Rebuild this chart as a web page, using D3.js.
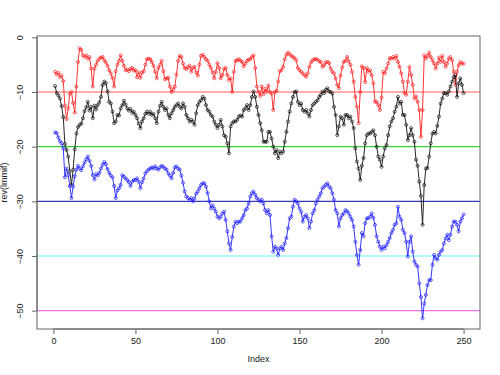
<!DOCTYPE html>
<html lang="en">
<head>
    <meta charset="UTF-8">
    <title>Three series with reference lines</title>
    <script src="https://d3js.org/d3.v7.min.js"></script>
    <style>
        body { margin: 0; background: #fff; font-family: "Liberation Sans", Arial, sans-serif; }
        .tick text { font-size: 9px; fill: #222; }
        .axis-label { font-size: 9px; fill: #222; }
    </style>
</head>
<body>
    <svg width="500" height="375"></svg>
    <script>
        // values, index 1..250
        const redVals = [
            -6.3,-6.8,-6.5,-7.3,-7,-8,-12.5,-15,-13,-10.3,-10,-12,-13.8,-9,-4.5,-2,-2.3,-3.3,-3.6,-3.3,
            -3.9,-3.6,-5.7,-9,-5.7,-5,-4.3,-3.9,-3.7,-3.6,-4.2,-4.6,-5.2,-6,-6.6,-7.4,-9,-6.2,-5,-4.3,
            -3.3,-4.3,-5.2,-6,-5.9,-6.2,-5.8,-5.6,-6.1,-6,-7.3,-6.4,-7.4,-6.5,-6.2,-5,-4,-3.9,-4,-4.5,
            -5.2,-6.3,-7.5,-5.6,-5,-4.3,-6.2,-7.7,-7.5,-7.4,-9,-10,-9.5,-9,-6.8,-4.3,-3.4,-3.6,-4.8,-5.6,
            -5.8,-5.5,-5.2,-6.3,-5.6,-5.4,-6.4,-7,-5,-3.4,-3.2,-3.6,-4,-4.3,-5,-5.6,-6.4,-7.5,-6.3,-4.7,
            -5.6,-7.5,-6.9,-5.8,-5.6,-6.9,-7.8,-7.5,-10,-6.3,-4.3,-4.2,-4,-4.3,-4.5,-5.3,-4.8,-4.3,-4.1,-4,
            -3.6,-3.3,-5.6,-9,-10,-10.7,-9,-10.4,-9.4,-10,-8.8,-10,-10.3,-13.3,-10,-9.8,-8.1,-6.2,-6,-5.4,
            -4,-3.2,-2.8,-3.1,-3.4,-3.6,-3.8,-4.2,-5.6,-6,-6.3,-6.6,-6.9,-7.2,-6.6,-5.4,-4.6,-4.2,-4,-4,
            -4.1,-4.4,-4.5,-5.4,-5.1,-4.6,-4.5,-4.7,-5.7,-6.3,-6.6,-7.5,-8.7,-9.3,-7,-5.5,-4.5,-4.3,-3.6,-4.4,
            -5,-6.3,-8.1,-10.9,-12.7,-15.7,-10,-5.3,-5.6,-8.2,-5.6,-6.3,-6,-6.9,-8.4,-11.8,-11.8,-12.4,-13.3,-11,
            -6.3,-6.6,-5.7,-4.8,-3.8,-3.9,-3.6,-3.9,-3.4,-4.5,-5.4,-6.6,-8.1,-10.2,-10.5,-8.1,-5.4,-6.9,-8.7,-11.2,
            -10.8,-11.8,-13.3,-18.2,-13.3,-3.3,-3.9,-3.4,-2.8,-3.6,-4.2,-4.8,-5.7,-4.8,-3.7,-4.5,-3.4,-4.5,-5.4,-4.8,
            -3.9,-3.6,-4.2,-6.3,-8.7,-6.3,-5.1,-4.5,-4.8,-4.8
        ];

        const blackVals = [
            -8.9,-10.2,-10.6,-11.2,-12.6,-14.6,-19.5,-20.6,-21.8,-24.5,-27,-24.2,-20.5,-17.6,-16.4,-16,-15.8,-14.8,-13.5,-12.8,
            -11.8,-13.4,-12.7,-14.8,-12.5,-13.2,-12.4,-11.9,-10.9,-8.7,-8.1,-8.4,-9.9,-11.8,-12.1,-13.6,-15.7,-15.4,-14.2,-14.3,
            -13,-12.4,-11.6,-12.3,-13,-13.4,-13.1,-13.8,-13.6,-14.2,-14.8,-15.8,-16.6,-15.4,-14.8,-14,-13.6,-14,-13.6,-14.2,
            -14,-14.8,-15.7,-13.6,-12.5,-11.8,-12.7,-13.3,-13,-14.2,-14.8,-13.9,-13.3,-12.7,-12.4,-12.1,-12.7,-13,-12.1,-12.7,
            -14.2,-14.8,-15.4,-15.1,-15.4,-16,-13.9,-12.4,-11.8,-11.5,-10.9,-11.2,-12.4,-13.3,-13.6,-14.2,-14.5,-15.4,-16,-16.6,
            -16,-15.1,-16.3,-17.9,-18.2,-19.4,-21.2,-16.3,-15.7,-15.4,-15.4,-15.1,-14.5,-14.3,-14.5,-13.3,-13,-12.4,-13.3,-12.4,
            -10.9,-9.9,-10.9,-12.7,-14.2,-15.7,-17,-19.1,-19.1,-19.1,-17.3,-17.3,-18.5,-20,-21.2,-20.6,-22.1,-20.9,-21.2,-20.9,
            -19.1,-17.3,-15.4,-13.6,-12.1,-10.9,-10,-9.9,-11.8,-12.4,-12.1,-13.3,-13.6,-13.3,-13.9,-14.5,-13.3,-12.4,-12.1,-11.8,
            -11.5,-10.9,-10.5,-9.9,-10.2,-9.6,-9.3,-9.9,-10,-10.3,-12.7,-14.2,-17.9,-16.3,-14.5,-14.8,-16,-14.2,-14.2,-14.8,
            -14.5,-15.4,-16.6,-20.3,-22.7,-24,-26.1,-23.5,-22.1,-19.4,-17.9,-17.6,-17.6,-17.3,-17,-17.9,-20,-21.8,-22.4,-23.7,
            -21.8,-20.3,-19.7,-17.9,-16.3,-15.4,-14.8,-13.6,-12.7,-10.9,-12.1,-11.8,-14.2,-14.2,-16,-18.8,-17.9,-16.6,-17.9,-19.1,
            -22.4,-23.5,-26.4,-29,-34.3,-27,-24,-23.9,-21.8,-19.4,-17.6,-17.3,-17.6,-16.2,-14.5,-12.1,-11.2,-10.2,-10.2,-10.5,
            -9.9,-9,-8.1,-7.3,-6.9,-10.9,-8.4,-7.5,-8.7,-10.2
        ];

        const blueVals = [
            -17.4,-17.5,-18.3,-19,-19.4,-20.3,-25.6,-24,-25.2,-27.2,-29.4,-27.3,-25.4,-24.2,-23.5,-24,-24.3,-23.6,-22.9,-22.3,
            -21.8,-22.6,-23.5,-25.2,-26,-25,-25.3,-24.8,-24,-23.3,-22.8,-23.2,-24.1,-24.8,-25.3,-25.6,-27.2,-29.4,-28,-27.6,
            -27,-25.2,-25.5,-25.8,-26.1,-26.5,-27.2,-26.4,-26.1,-26.1,-25.8,-26.4,-27.6,-26.5,-25.8,-24.9,-24.5,-24.2,-24,-23.8,
            -24,-23.6,-24,-24.2,-23.8,-23.5,-23.7,-24,-24.2,-24.9,-25.3,-25.8,-24.8,-23.8,-23.6,-24,-24.2,-25.3,-26.6,-28.2,
            -29.1,-29.4,-29.7,-29.4,-30,-29.5,-28.6,-28.2,-27.6,-27,-26.7,-26.7,-27.3,-28.5,-30,-31.3,-30.7,-31.3,-31.9,-32.8,
            -33.1,-32.8,-32.2,-31.9,-33.4,-35.5,-37.7,-38.9,-36.5,-34.6,-33.7,-34,-33.7,-33.7,-33.1,-32.5,-31.6,-31.3,-30.4,-29.1,
            -28.5,-28.2,-28.8,-29.4,-29.7,-30,-29.7,-30.4,-31.6,-32.2,-31.6,-32.5,-36.4,-39.2,-38.3,-38.6,-39.8,-38.6,-38.3,-38.9,
            -37.7,-36.7,-34.9,-33.1,-32.8,-31,-29.7,-30,-30.4,-31.3,-31.9,-33.7,-32.8,-32.5,-33.1,-34.9,-33.7,-32.2,-31.6,-30.4,
            -29.7,-29.1,-28.5,-27.6,-27.3,-27,-26.7,-27.3,-27.6,-28.5,-29.7,-31.6,-32.2,-34.6,-33.1,-32.5,-32.2,-31.6,-31.8,-32.2,
            -32.8,-33.4,-34.6,-37.4,-39.8,-41.6,-38.9,-35.8,-36.4,-34,-33.1,-33.1,-32.8,-32.2,-33,-34.3,-36.4,-37.4,-38.3,-38.9,
            -38.3,-38.6,-38,-37.4,-36.7,-35.8,-35.2,-34.3,-34,-31,-32.8,-33.4,-35.2,-35.8,-37.4,-40.1,-37.4,-36.4,-39.2,-41,
            -41.6,-41.9,-45,-47.5,-51.4,-48.7,-47.1,-45.3,-44.4,-44.4,-41.6,-39.8,-40.4,-40.7,-39.8,-39.2,-38.9,-37.7,-36.8,-36.1,
            -37.1,-36.1,-34.6,-33.7,-33.7,-34.3,-35.5,-33.7,-33.1,-32.4
        ];

        const refLevels = [-10, -20, -30, -40, -50];
        const refColors = ["#ff5a5a", "#3ccc3c", "#3a3ab4", "#70f0f0", "#f070f0"];
        const xTicks = [0, 50, 100, 150, 200, 250];
        const yTicks = [0, -10, -20, -30, -40, -50];

        const series = [
            { vals: redVals, color: "#ff2020" },
            { vals: blackVals, color: "#111" },
            { vals: blueVals, color: "#2020ff" }
        ];

        const box = { left: 37, right: 480, top: 36, bottom: 329 };

        const svg = d3.select("svg");

        const x = d3.scaleLinear()
                    .domain([-10, 260])
                    .range([box.left, box.right]);

        const y = d3.scaleLinear()
                    .domain([-53.35, 0.24])
                    .range([box.bottom, box.top]);

        // reference lines
        svg.selectAll(".ref")
           .data(refLevels)
           .join("line")
           .attr("class", "ref")
           .attr("x1", box.left)
           .attr("x2", box.right)
           .attr("y1", d => y(d))
           .attr("y2", d => y(d))
           .attr("stroke", (d, i) => refColors[i])
           .attr("stroke-width", 1.2);

        const line = d3.line()
                       .x((d, i) => x(i + 1))
                       .y(d => y(d));

        series.forEach(s => {
            const g = svg.append("g");
            g.append("path")
             .datum(s.vals)
             .attr("fill", "none")
             .attr("stroke", s.color)
             .attr("stroke-width", 0.9)
             .attr("d", line);
            g.selectAll("circle")
             .data(s.vals)
             .join("circle")
             .attr("cx", (d, i) => x(i + 1))
             .attr("cy", d => y(d))
             .attr("r", 1.5)
             .attr("fill", "none")
             .attr("stroke", s.color)
             .attr("stroke-width", 0.7);
        });

        // plot box
        svg.append("rect")
           .attr("x", box.left)
           .attr("y", box.top)
           .attr("width", box.right - box.left)
           .attr("height", box.bottom - box.top)
           .attr("fill", "none")
           .attr("stroke", "#666")
           .attr("stroke-width", 1);

        // axes
        const xAxis = svg.append("g")
           .attr("transform", `translate(0,${box.bottom})`)
           .call(d3.axisBottom(x).tickValues(xTicks).tickSize(5).tickPadding(4));
        xAxis.select(".domain").attr("d", `M${x(0)},0H${x(250)}`).attr("stroke", "#666");
        xAxis.selectAll(".tick line").attr("stroke", "#666");

        const yAxis = svg.append("g")
           .attr("transform", `translate(${box.left},0)`)
           .call(d3.axisLeft(y).tickValues(yTicks).tickSize(5));
        yAxis.select(".domain").attr("d", `M0,${y(-50)}V${y(0)}`).attr("stroke", "#666");
        yAxis.selectAll(".tick line").attr("stroke", "#666");
        yAxis.selectAll(".tick text")
             .attr("x", 0).attr("dy", null)
             .attr("transform", "translate(-14,0) rotate(-90)")
             .attr("text-anchor", "middle");

        svg.append("text")
           .attr("class", "axis-label")
           .attr("x", (box.left + box.right) / 2)
           .attr("y", 362)
           .attr("text-anchor", "middle")
           .text("Index");

        svg.append("text")
           .attr("class", "axis-label")
           .attr("transform", `translate(7,${(box.top + box.bottom) / 2}) rotate(-90)`)
           .attr("text-anchor", "middle")
           .text("rev(lmmif)");
    </script>
</body>
</html>
